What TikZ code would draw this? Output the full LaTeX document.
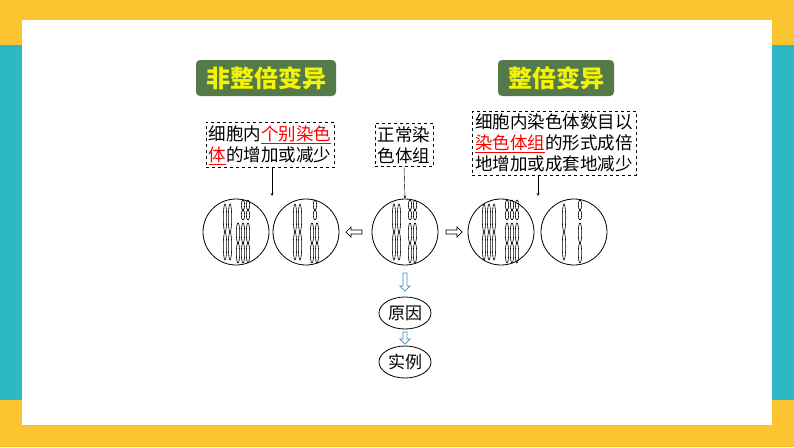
\documentclass[tikz,border=0pt]{standalone}
\usepackage{fontspec}
\usepackage{tikz}
\usetikzlibrary{positioning,shapes.arrows,shapes.geometric}
\newfontfamily\cjk{Noto Sans CJK SC}
\definecolor{frame-y}{HTML}{FBC531}
\definecolor{frame-t}{HTML}{2EB8C6}
\definecolor{head-g}{HTML}{557A4A}
\definecolor{head-t}{HTML}{F4F400}
\definecolor{flow-b}{HTML}{3D8FC4}
\newcommand{\chrom}[3]{%
  \draw[line width=0.6pt] (#1,#2-#3) ellipse [x radius=1.7, y radius=#3];
  \draw[line width=0.6pt] (#1,#2+#3) ellipse [x radius=1.7, y radius=#3];}
\newcommand{\redu}[1]{\textcolor{red}{\underline{#1}}}
\begin{document}
\begin{tikzpicture}
[
x=1pt, y=-1pt,
head-a/.style={rounded corners=4pt, fill=head-g, text=head-t, font=\cjk\bfseries\fontsize{24}{26}\selectfont, minimum height=36pt, inner xsep=10pt},
note-a/.style={draw, dashed, font=\cjk\fontsize{17.5}{21}\selectfont, align=left, inner sep=3pt},
cell-a/.style={circle, draw, line width=0.8pt, minimum size=66pt},
oval-a/.style={ellipse, draw, line width=0.8pt, font=\cjk\fontsize{17}{18}\selectfont, minimum width=52pt, minimum height=32pt, inner sep=1pt},
hollow-a/.style={single arrow, draw, line width=0.7pt, minimum height=16pt, minimum width=10pt, single arrow head extend=2pt, inner sep=1pt},
hollow-b/.style={hollow-a, draw=flow-b, shape border rotate=270},
text-a/.style={black}
]
% frame
\fill[frame-y] (0,0) rectangle (794,447);
\fill[frame-t] (0,45) rectangle (22,400);
\fill[frame-t] (772,45) rectangle (794,400);
\fill[white] (22,20) rectangle (772,425);
\useasboundingbox (0,0) rectangle (794,447);

% headers
\node (head-an) [head-a] at (266,78) {非整倍变异};
\node (head-eu) [head-a] at (556,78) {整倍变异};

% notes
\node (note-an) [note-a] at (270,145) {细胞内\redu{个别染色}\\\redu{体}的增加或减少};
\node (note-n)  [note-a] at (404,145) {正常染\\色体组};
\node (note-eu) [note-a] at (554,143) {细胞内染色体数目以\\\redu{染色体组}的形式成倍\\地增加或成套地减少};

% cells
\node (cell-tri)  [cell-a] at (236,232) {};
\node (cell-mono) [cell-a] at (306,232) {};
\node (cell-nor)  [cell-a] at (405,232) {};
\node (cell-tri3) [cell-a] at (501,232) {};
\node (cell-hap)  [cell-a] at (574,232) {};

% chromosomes
\foreach \x in {225,230} {\chrom{\x}{232}{14}}
\foreach \x in {243,248} {\chrom{\x}{210}{5}}
\foreach \x in {238,243,248} {\chrom{\x}{243}{10}}
\foreach \x in {295,300} {\chrom{\x}{232}{14}}
\foreach \x in {315} {\chrom{\x}{210}{5}}
\foreach \x in {312,317} {\chrom{\x}{243}{10}}
\foreach \x in {394,399} {\chrom{\x}{232}{14}}
\foreach \x in {410,415} {\chrom{\x}{210}{5}}
\foreach \x in {410,415} {\chrom{\x}{243}{10}}
\foreach \x in {484,489,494} {\chrom{\x}{232}{14}}
\foreach \x in {507,512,517} {\chrom{\x}{210}{5}}
\foreach \x in {507,512,517} {\chrom{\x}{243}{10}}
\foreach \x in {564} {\chrom{\x}{232}{14}}
\foreach \x in {580} {\chrom{\x}{210}{5}}
\foreach \x in {580} {\chrom{\x}{243}{10}}

% hollow arrows
\node (arr-l) [hollow-a, shape border rotate=180] at (355,232) {};
\node (arr-r) [hollow-a] at (453,232) {};

% causes
\node (oval-c) [oval-a] at (405,313) {原因};
\node (oval-e) [oval-a] at (405,362) {实例};
\node (arr-d1) [hollow-b, minimum height=18pt] at (405,281) {};
\node (arr-d2) [hollow-b, minimum height=12pt] at (405,337) {};

% pointers
\coordinate (tip-an) at (272,196);
\coordinate (tip-eu) at (538,196);
\draw[-stealth] (note-an.south -| tip-an) -- (tip-an);
\draw[-stealth] (note-n.south) -- (cell-nor.north);
\draw[-stealth] (note-eu.south -| tip-eu) -- (tip-eu);
\end{tikzpicture}
\end{document}
